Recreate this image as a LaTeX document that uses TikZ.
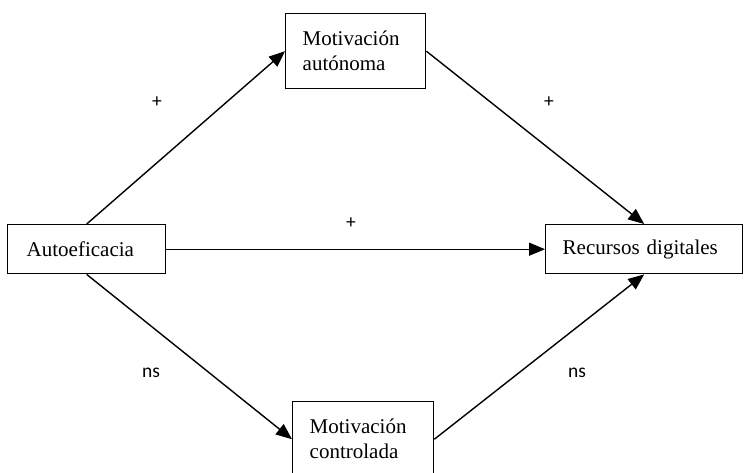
\documentclass[tikz,border=0pt]{standalone}
\usepackage{fontspec}
\setmainfont{Liberation Serif}
\newfontfamily\lblfont{Carlito}
\usetikzlibrary{arrows.meta}
\begin{document}
\begin{tikzpicture}[x=1pt,y=-1pt,
  box/.style={draw,line width=1.4pt,rectangle,anchor=north west,inner xsep=17pt,inner ysep=0pt,
    align=left,font=\fontsize{21}{25}\selectfont},
  conn/.style={line width=1.4pt,-{Triangle[length=16pt,width=13pt]}},
  lbl/.style={font=\lblfont\fontsize{19.5}{22}\selectfont,inner sep=0pt}]
\clip (0,0) rectangle (744,472);
\fill[white] (0,0) rectangle (744,472);
\node[box,minimum width=140pt,minimum height=75pt,text width=106pt] (ma) at (285,13) {Motivación\\autónoma};
\node[box,minimum width=141pt,minimum height=75pt,text width=107pt] (mc) at (292,401) {Motivación\\controlada};
\node[box,minimum width=158pt,minimum height=49pt,inner xsep=19pt,text width=120pt] (ae) at (7,224) {Autoeficacia};
\node[box,minimum width=197pt,minimum height=49pt,text width=163pt] (rd) at (545,224) {Recursos digitales};
\draw[conn] (ae.north) -- (ma.west);
\draw[conn] (ma.east) -- (rd.north);
\draw[conn] (ae.east) -- (rd.west);
\draw[conn] (ae.south) -- (mc.west);
\draw[conn] (mc.east) -- (rd.south);
\node[lbl] (l1) at (157,102) {+};
\node[lbl] (l2) at (549,102) {+};
\node[lbl] (l3) at (351,223) {+};
\node[lbl] (l4) at (151,373) {ns};
\node[lbl] (l5) at (577,373) {ns};
\end{tikzpicture}
\end{document}
